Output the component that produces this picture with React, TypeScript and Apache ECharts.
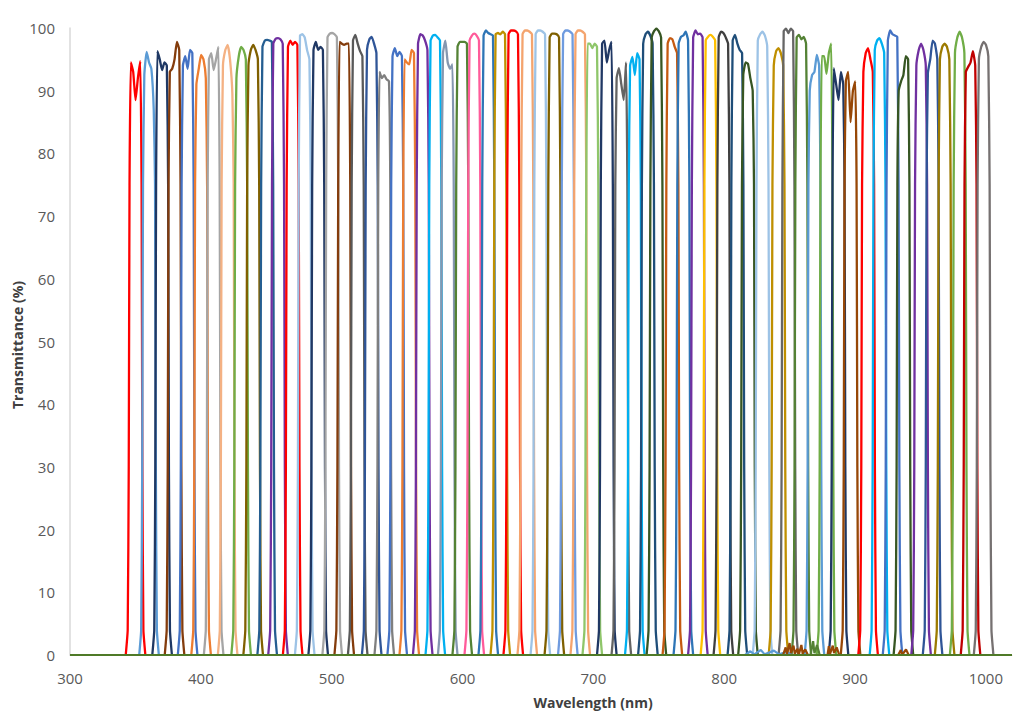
import React, { useEffect, useRef } from "react";
import * as echarts from "echarts";

// Filter centre wavelengths (nm)
const centers = [
  350.1, 360.4, 370.4, 379.9, 389.9, 400.2, 409.8, 420.5, 430.8, 440.0,
  450.7, 459.0, 470.2, 479.4, 489.7, 500.4, 509.6, 519.9, 530.6, 540.2,
  550.1, 559.3, 569.6, 579.2, 588.7, 599.8, 609.0, 619.7, 628.9, 638.8,
  649.5, 659.5, 670.2, 680.5, 690.0, 699.2, 710.3, 721.4, 731.7, 741.7,
  748.2, 760.4, 768.8, 779.9, 789.5, 799.4, 810.1, 818.2, 829.3, 841.5,
  849.1, 859.0, 869.0, 878.2, 887.4, 896.6, 910.0, 918.7, 928.7, 937.0,
  950.5, 959.3, 968.5, 980.0, 988.3, 998.3,
];

const colors = [
  "#FF0000", "#5B9BD5", "#1F3864", "#843C0C", "#4472C4", "#ED7D31", "#A5A5A5", "#F4B183", "#70AD47", "#806000",
  "#255E91", "#7030A0", "#FF0000", "#9DC3E6", "#203864", "#A5A5A5", "#843C0C", "#595959", "#2F5597", "#7F7F7F",
  "#4472C4", "#ED7D31", "#7030A0", "#00B0F0", "#8497B0", "#548235", "#FF5B9A", "#2E75B6", "#BF9000", "#FF0000",
  "#F4A46E", "#9DC3E6", "#7F6000", "#6F9BDF", "#F4A46E", "#8FC66A", "#203864", "#636363", "#00B0F0", "#1F4E79",
  "#375623", "#C55A11", "#2E75B6", "#7030A0", "#FFC000", "#404040", "#1F4E79", "#375623", "#9DC3E6", "#BF8F00",
  "#666666", "#548235", "#5B9BD5", "#70AD47", "#1F3864", "#974706", "#FF0000", "#00B0F0", "#4472C4", "#375623",
  "#7030A0", "#2F5597", "#9C7A00", "#70AD47", "#C00000", "#767171",
];

// Transmittance across each passband top (at offsets -3.6, -1.8, 0, 1.8, 3.6 nm)
const tops = [
  [94.5, 93, 88.5, 92, 94.7], [92.5, 96.2, 94.5, 93.5, 87], [96.3, 95, 93.3, 94.5, 94], [93, 93.5, 95, 97.8, 96.5],
  [94, 95.5, 93.5, 96.5, 96], [91, 93.5, 95.7, 95, 92], [95, 96, 93.3, 95, 97], [94, 96.5, 97.3, 95, 89.5],
  [92, 95.5, 97, 96.5, 95], [94, 96.5, 97.3, 96.5, 95], [97, 98, 98.1, 98, 97.8], [97.5, 98.3, 98.4, 98.2, 97.5],
  [97, 98, 97.3, 97.8, 97.3], [98.8, 99, 98.5, 96.5, 95], [96.5, 97.8, 96.5, 97, 96.5], [98.5, 99.1, 99.2, 99, 98.5],
  [97.8, 97.5, 97.3, 97.5, 97.5], [98, 98.9, 97.5, 96.3, 95.5], [96.5, 98.2, 98.6, 97.5, 96], [93, 92, 92.5, 91.8, 91.5],
  [95.5, 96.8, 95.5, 96.2, 95.5], [95, 94.5, 94.2, 96.5, 96], [97.5, 99, 98.8, 98, 96.5], [98, 98.8, 98.9, 98.5, 98],
  [96, 98, 94.5, 93.5, 94.2], [97, 97.8, 97.8, 97.8, 97.5], [98, 98.8, 99.1, 98.8, 98], [98.8, 99.6, 99.2, 99, 98.8],
  [99, 99.2, 99, 99.4, 99], [99, 99.6, 99.6, 99.5, 99], [99, 99.6, 99.6, 99.4, 99], [99, 99.6, 99.6, 99.4, 99],
  [98.5, 99.1, 99.1, 99, 98.5], [99, 99.6, 99.6, 99.4, 99], [99, 99.6, 99.6, 99.4, 99], [97.5, 97.5, 96.8, 97.5, 97],
  [97.5, 98, 94.5, 96.5, 97.8], [92, 93.6, 91, 88.5, 94.5], [94, 95.4, 92.5, 96, 95], [97.5, 99, 99.4, 98.8, 97.5],
  [98.5, 99.5, 99.9, 99.5, 98.5], [97.5, 98.4, 98.2, 97, 96], [97.5, 98.6, 98.8, 99.4, 98], [98.5, 99.6, 99, 99.1, 98.5],
  [98, 98.6, 98.9, 98.6, 98], [98.5, 99.4, 99.2, 98.5, 97.5], [98, 98.9, 97.5, 96.5, 96], [92.5, 94.5, 94.3, 92, 90],
  [98, 99, 99.4, 98.8, 97], [94, 96.3, 96.8, 96, 94], [99.5, 99.9, 99.2, 99.9, 99.5], [98.5, 98.9, 98.2, 98.6, 97.5],
  [90, 92.5, 93, 95.7, 94], [95.5, 95.5, 92.7, 96, 97.5], [93.6, 91, 88.5, 93, 91], [91.5, 93, 85, 90, 91.5],
  [93, 96, 96.8, 95, 93], [96.5, 98, 98.4, 97.5, 96], [98, 99.6, 99, 98.8, 98.6], [90, 91.5, 92.5, 95.5, 95],
  [94, 96.5, 97.5, 96.5, 94], [92.8, 95, 98, 97.5, 95], [95, 97, 97.5, 97, 95], [96, 98.5, 99.4, 98.5, 96],
  [93, 93.8, 94.5, 96.3, 94], [95, 97, 97.8, 97.3, 95.5],
];

// Sample offsets (nm) relative to each centre, and the edge levels
const profileOffsets = [-7.5, -6.0, -5.2, -4.6, -3.6, -1.8, 0, 1.8, 3.6, 4.6, 5.2, 6.0, 7.5];
const edgeLevels = [0, 4, 30, 75];

// Small noise features near the baseline
const noiseBrown = [
  [845, 0], [847, 1.2], [848, 0.2], [850, 1.9], [851, 0.3], [853, 1.5], [854, 0.2], [856, 1.0], [857, 0],
  [859, 1.6], [860, 0.2], [862, 0.9], [864, 0], [879, 0], [880, 1.4], [881, 0.2], [883, 1.5], [884, 0.3],
  [886, 1.2], [888, 0], [933, 0], [935, 0.8], [936, 0], [939, 0.9], [941, 0],
];
const noiseGreen = [[866, 0], [868, 2.2], [869, 0.3], [871, 1.6], [873, 0]];
const noiseBlue = [
  [816, 0], [820, 0.6], [823, 0.1], [828, 0.8], [831, 0.1], [838, 0.7], [842, 0.1], [848, 0.5], [852, 0],
];

const xTicks = { min: 300, max: 1020, interval: 100 };
const yTicks = { min: 0, max: 100, interval: 10 };

export default function App() {
  const ref = useRef<HTMLDivElement>(null);
  useEffect(() => {
    if (!ref.current) return;
    const chart = echarts.init(ref.current, undefined, { renderer: "svg" });
    const filterSeries = centers.map((c, i) => ({
      type: "line",
      data: profileOffsets.map((o, k) => {
        const v = k < 4 ? edgeLevels[k] : k > 8 ? edgeLevels[12 - k] : tops[i][k - 4];
        return [c + o, v];
      }),
      showSymbol: false,
      symbol: "none",
      smooth: 0.15,
      lineStyle: { color: colors[i], width: 2.3 },
      itemStyle: { color: colors[i] },
    }));
    const extra = [
      { data: noiseBlue, color: "#5B9BD5" },
      { data: noiseBrown, color: "#974706" },
      { data: noiseGreen, color: "#548235" },
      { data: [[300, 0], [1020, 0]], color: "#4F7A28" },
    ].map((s) => ({
      type: "line",
      data: s.data,
      symbol: "none",
      lineStyle: { color: s.color, width: 2.2 },
    }));
    const labelStyle = { color: "#595959", fontSize: 15, fontFamily: "Open Sans" };
    chart.setOption({
      animation: false,
      backgroundColor: "#ffffff",
      grid: { left: 70, right: 1, top: 28, bottom: 57, containLabel: false },
      xAxis: {
        type: "value",
        min: xTicks.min,
        max: xTicks.max,
        interval: xTicks.interval,
        axisLine: { show: true, lineStyle: { color: "#D9D9D9", width: 1 } },
        axisTick: { show: false },
        splitLine: { show: false },
        axisLabel: { ...labelStyle, margin: 15, showMaxLabel: false, formatter: (v: number) => String(v) },
      },
      yAxis: {
        type: "value",
        min: yTicks.min,
        max: yTicks.max,
        interval: yTicks.interval,
        axisLine: { show: true, lineStyle: { color: "#D9D9D9", width: 1.5 } },
        axisTick: { show: false },
        splitLine: { show: false },
        axisLabel: { ...labelStyle, margin: 15 },
      },
      graphic: [
        {
          type: "text",
          x: 593,
          y: 702,
          style: {
            text: "Wavelength (nm)",
            fill: "#404040",
            font: "bold 14px 'Open Sans'",
            textAlign: "center",
            textVerticalAlign: "middle",
          },
        },
        {
          type: "text",
          x: 17,
          y: 345,
          rotation: Math.PI / 2,
          style: {
            text: "Transmittance (%)",
            fill: "#404040",
            font: "bold 14px 'Open Sans'",
            textAlign: "center",
            textVerticalAlign: "middle",
          },
        },
      ],
      series: [...filterSeries, ...extra],
    });
    return () => chart.dispose();
  }, []);
  return (
    <div
      ref={ref}
      style={{ position: "fixed", left: 0, top: 0, width: 1013, height: 712, background: "#fff" }}
    />
  );
}
